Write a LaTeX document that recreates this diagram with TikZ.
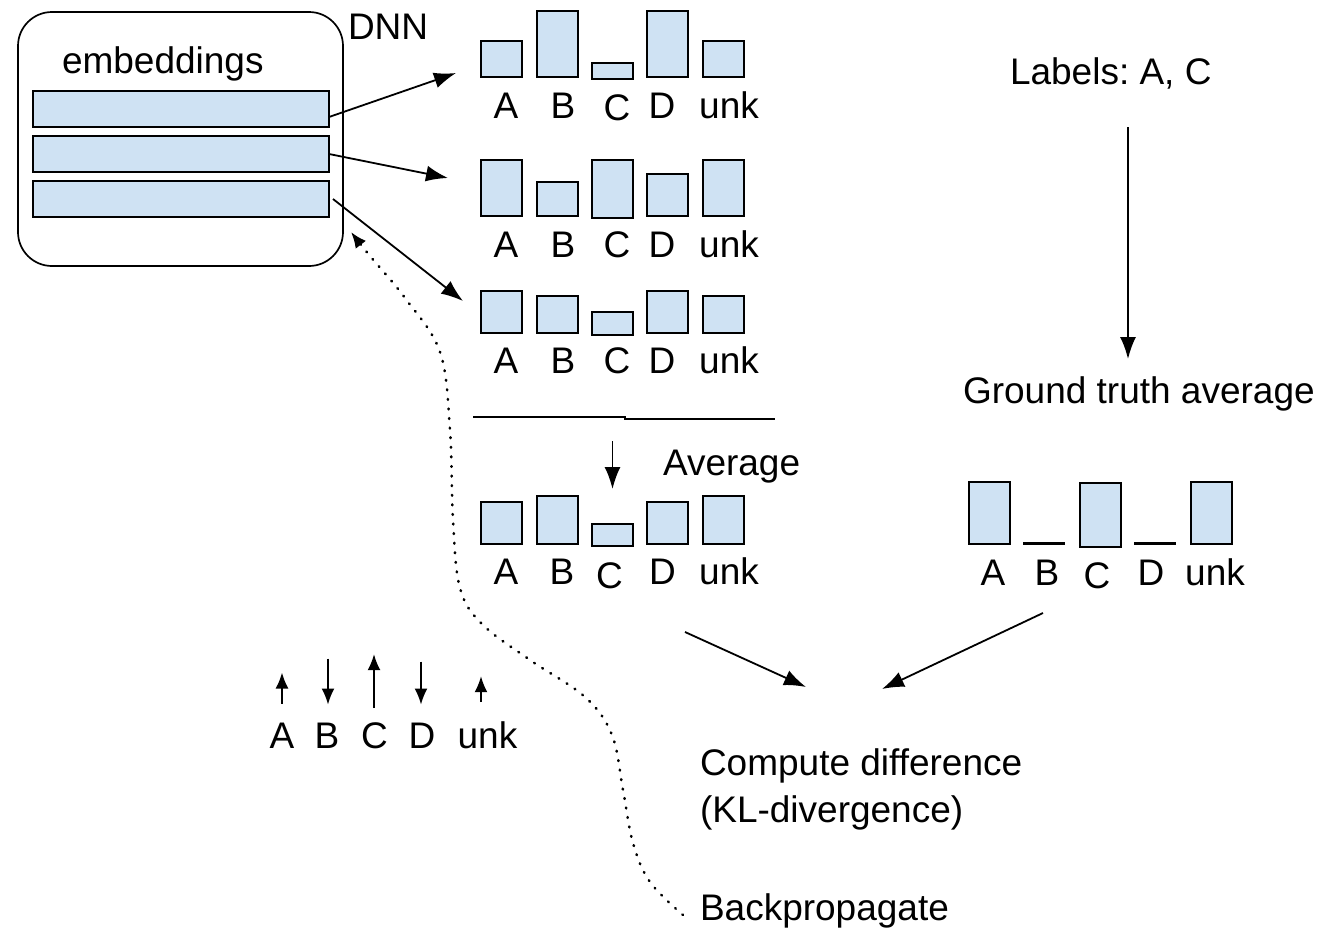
\documentclass[tikz,border=0pt]{standalone}
\usepackage{fontspec}
\setmainfont{Liberation Sans}
\usetikzlibrary{arrows.meta,positioning}
\definecolor{barblue}{RGB}{207,226,243}
\frenchspacing

\begin{document}
\begin{tikzpicture}[x=1pt,y=-1pt,font=\fontsize{37}{47}\selectfont,
      every node/.style={inner sep=0pt,outer sep=0pt},
      dnnbox/.style={draw,line width=1.7pt,rounded corners=34pt,
        minimum width=325pt,minimum height=254pt},
      emb/.style={draw,line width=1.8pt,fill=barblue,anchor=north west,
        minimum width=296pt,minimum height=36pt},
      bar/.style={draw,line width=1.8pt,fill=barblue,anchor=south west,minimum width=41pt},
      zerobar/.style={fill=black,minimum width=42pt,minimum height=3pt},
      lbl/.style={anchor=base},
      txt/.style={anchor=base west,align=left},
      arr/.style={-{Latex[length=22pt,width=16pt]},line width=1.8pt},
      tick/.style={-{Latex[length=16pt,width=13pt]},line width=1.8pt},
      bp/.style={-{Latex[length=16pt,width=13pt]},line width=2.6pt,
        dash pattern=on 0.8pt off 8.8pt,line cap=round}]
    \useasboundingbox (0,0) rectangle (1325,932);

    % network with its embedding rows
    \node[dnnbox](dnn) at (180.5,139){};
    \node[txt](dnnlbl) at (348,39){DNN};
    \node[txt](embl) at (62,73){embeddings};
    \node[emb](emb1) at (33,91){};
    \node[emb](emb2) at (33,136){};
    \node[emb](emb3) at (33,181){};

    % output distributions, one row per embedding
    \foreach \k/\xa/\h/\yb in {A/481/36/77,B/537/66/77,C/592/16/79,D/647/66/77,unk/703/36/77}
      \node[bar,minimum height=\h pt](ra\k) at (\xa,\yb){};
    \foreach \k/\lx/\ly in {A/506/118,B/563/118,C/617/120,D/662/118,unk/729/118}
      \node[lbl](ta\k) at (\lx,\ly){\k};
    \foreach \k/\xa/\h/\yb in {A/481/56/216,B/537/34/216,C/592/58/218,D/647/42/216,unk/703/56/216}
      \node[bar,minimum height=\h pt](rb\k) at (\xa,\yb){};
    \foreach \k/\lx in {A/506,B/563,C/617,D/662,unk/729}
      \node[lbl](tb\k) at (\lx,257){\k};
    \foreach \k/\xa/\h/\yb in {A/481/42/333,B/537/37/333,C/592/23/335,D/647/42/333,unk/703/37/333}
      \node[bar,minimum height=\h pt](rc\k) at (\xa,\yb){};
    \foreach \k/\lx in {A/506,B/563,C/617,D/662,unk/729}
      \node[lbl](tc\k) at (\lx,373){\k};

    \coordinate(ina) at (456,73);
    \coordinate(inb) at (448,178);
    \coordinate(inc) at (463,301);
    \draw[arr]([yshift=-8pt]emb1.east)--(ina);
    \draw[arr](emb2.east)--(inb);
    \draw[arr]([xshift=4pt]emb3.east)--(inc);

    % averaging step
    \draw[line width=1.6pt](473,417)--(625,417)--(625,419)--(775,419);
    \node[txt](avgl) at (663,475){Average};
    \foreach \k/\xa/\h/\yb in {A/481/42/544,B/537/48/544,C/592/22/546,D/647/42/544,unk/703/48/544}
      \node[bar,minimum height=\h pt](rd\k) at (\xa,\yb){};
    \foreach \k/\lx/\ly in {A/506/584,B/562/584,C/609.5/588,D/662.5/584,unk/729/584}
      \node[lbl](td\k) at (\lx,\ly){\k};
    \coordinate(sepout) at (612.5,441);
    \draw[arr](sepout)--([yshift=35pt]rdC.north);

    % target side
    \node[txt](lab) at (1010,84){Labels: A, C};
    \node[txt](gta) at (963,403){Ground truth average};
    \coordinate(labout) at (1128,127);
    \coordinate(gtin) at (1128,359);
    \draw[arr](labout)--(gtin);
    \node[bar,minimum height=62pt](gA) at (969,544){};
    \node[zerobar](gB) at (1044,543){};
    \node[bar,minimum height=64pt](gC) at (1080,547){};
    \node[zerobar](gD) at (1155,543){};
    \node[bar,minimum height=62pt](gunk) at (1191,544){};
    \foreach \k/\lx/\ly in {A/993/585,B/1047/585,C/1097/588,D/1151/585,unk/1215/585}
      \node[lbl](tg\k) at (\lx,\ly){\k};

    % loss
    \node[txt](kl) at (700,822){Compute difference\\(KL-divergence)};
    \coordinate(avgout) at (685,632);
    \coordinate(klina) at (806,687);
    \coordinate(gtout) at (1043,613);
    \coordinate(klinb) at (882,689);
    \draw[arr](avgout)--(klina);
    \draw[arr](gtout)--(klinb);

    % gradient signs per class
    \foreach \k/\lx/\dx/\off/\len in {A/282/0/19/-31,B/327/1/64/46,C/374.5/-0.5/14/-54,D/422/-1/61/43,unk/487.5/-6.5/19/-26}{
      \node[lbl](d\k) at (\lx,748){\k};
      \draw[tick](d\k.north) ++(\dx,-\off)--++(0,\len);
    }

    % backpropagation path
    \node[txt](bp) at (700,920){Backpropagate};
    \coordinate(bpout) at (683,915);
    \coordinate(dnnin) at (351,232);
    \draw[bp] plot[smooth,tension=0.6] coordinates {(bpout) (650,882) (633,843) (623,790)
      (612,735) (585,697) (530,660) (482,624) (460,588) (453,520) (450,430) (440,352)
      (405,298) (370,256) (dnnin)};
  \end{tikzpicture}
\end{document}
